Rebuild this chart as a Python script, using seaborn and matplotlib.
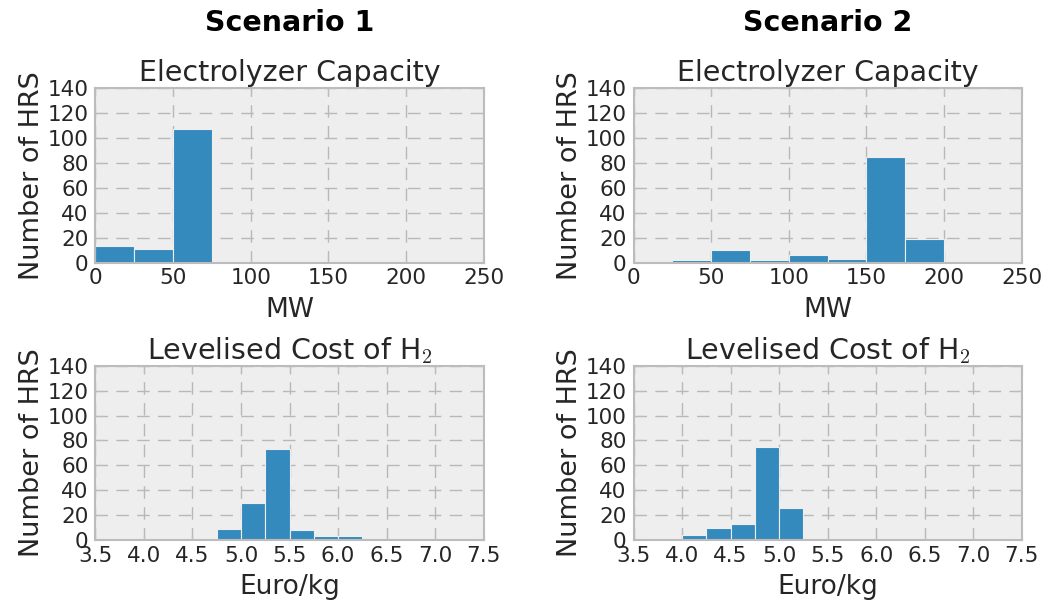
import numpy as np
import pandas as pd
import matplotlib
matplotlib.use("Agg")
import matplotlib.pyplot as plt
import seaborn as sns

plt.style.use("bmh")
plt.rcParams["font.family"] = ["DejaVu Sans"]
plt.rcParams["mathtext.fontset"] = "cm"
plt.rcParams["text.color"] = "#262626"
plt.rcParams["axes.labelcolor"] = "#262626"
plt.rcParams["xtick.color"] = "#262626"
plt.rcParams["ytick.color"] = "#262626"

# electrolyzer capacity histograms (MW), bin width 25
cap_edges = [0, 25, 50, 75, 100, 125, 150, 175, 200, 225, 250]
cap_s1 = [13, 11, 107, 0, 0, 0, 0, 0, 0, 0]
cap_s2 = [0, 2, 10, 2, 6, 3, 85, 19, 0, 0]

# levelised cost of H2 histograms (Euro/kg), bin width 0.25
lcoh_edges = [4.0, 4.25, 4.5, 4.75, 5.0, 5.25, 5.5, 5.75, 6.0, 6.25]
lcoh_s1 = [0, 0, 0, 9, 30, 73, 8, 3, 3]
lcoh_s2 = [4, 10, 13, 75, 26, 0, 0, 0, 0]

scenarios = ["Scenario 1", "Scenario 2"]

fig, axes = plt.subplots(2, 2, figsize=(10.48, 6.07), dpi=100)
fig.subplots_adjust(left=0.091, right=0.975, bottom=0.110, top=0.855,
                    wspace=0.386, hspace=0.59)


def draw(ax, edges, counts, title, xlabel, xlim, xticks):
    e = np.array(edges)
    df = pd.DataFrame({"x": (e[:-1] + e[1:]) / 2, "w": counts})
    sns.histplot(data=df, x="x", weights="w", bins=list(edges), ax=ax,
                 color="#348ABD", alpha=1, edgecolor="#eeeeee", linewidth=0.8)
    ax.set_xlim(*xlim)
    ax.set_xticks(xticks)
    ax.set_ylim(0, 140)
    ax.set_yticks(range(0, 141, 20))
    ax.set_title(title, fontsize=20.5, pad=5)
    ax.set_xlabel(xlabel, fontsize=19, labelpad=6)
    ax.set_ylabel("Number of HRS", fontsize=19.5, labelpad=2)
    ax.tick_params(labelsize=15.5, direction="in", top=True, right=True,
                   length=6, color="#bcbcbc")
    ax.tick_params(axis="x", pad=4)
    ax.tick_params(axis="y", pad=5)
    ax.grid(True, color="#b8b8b8", linestyle=(0, (9, 6)), linewidth=1)
    ax.set_axisbelow(True)
    for s in ax.spines.values():
        s.set_color("#bcbcbc")
        s.set_linewidth(1.5)


cap_ticks = [0, 50, 100, 150, 200, 250]
lcoh_ticks = [3.5, 4.0, 4.5, 5.0, 5.5, 6.0, 6.5, 7.0, 7.5]

draw(axes[0, 0], cap_edges, cap_s1, "Electrolyzer Capacity", "MW", (0, 250), cap_ticks)
draw(axes[0, 1], cap_edges, cap_s2, "Electrolyzer Capacity", "MW", (0, 250), cap_ticks)
draw(axes[1, 0], lcoh_edges, lcoh_s1, "Levelised Cost of H$_2$", "Euro/kg", (3.5, 7.5), lcoh_ticks)
draw(axes[1, 1], lcoh_edges, lcoh_s2, "Levelised Cost of H$_2$", "Euro/kg", (3.5, 7.5), lcoh_ticks)

fig.text(0.276, 0.962, scenarios[0], ha="center", va="center",
         fontsize=20.5, fontweight="bold", color="black")
fig.text(0.790, 0.962, scenarios[1], ha="center", va="center",
         fontsize=20.5, fontweight="bold", color="black")

fig.savefig("out.png", dpi=100, facecolor="white")
